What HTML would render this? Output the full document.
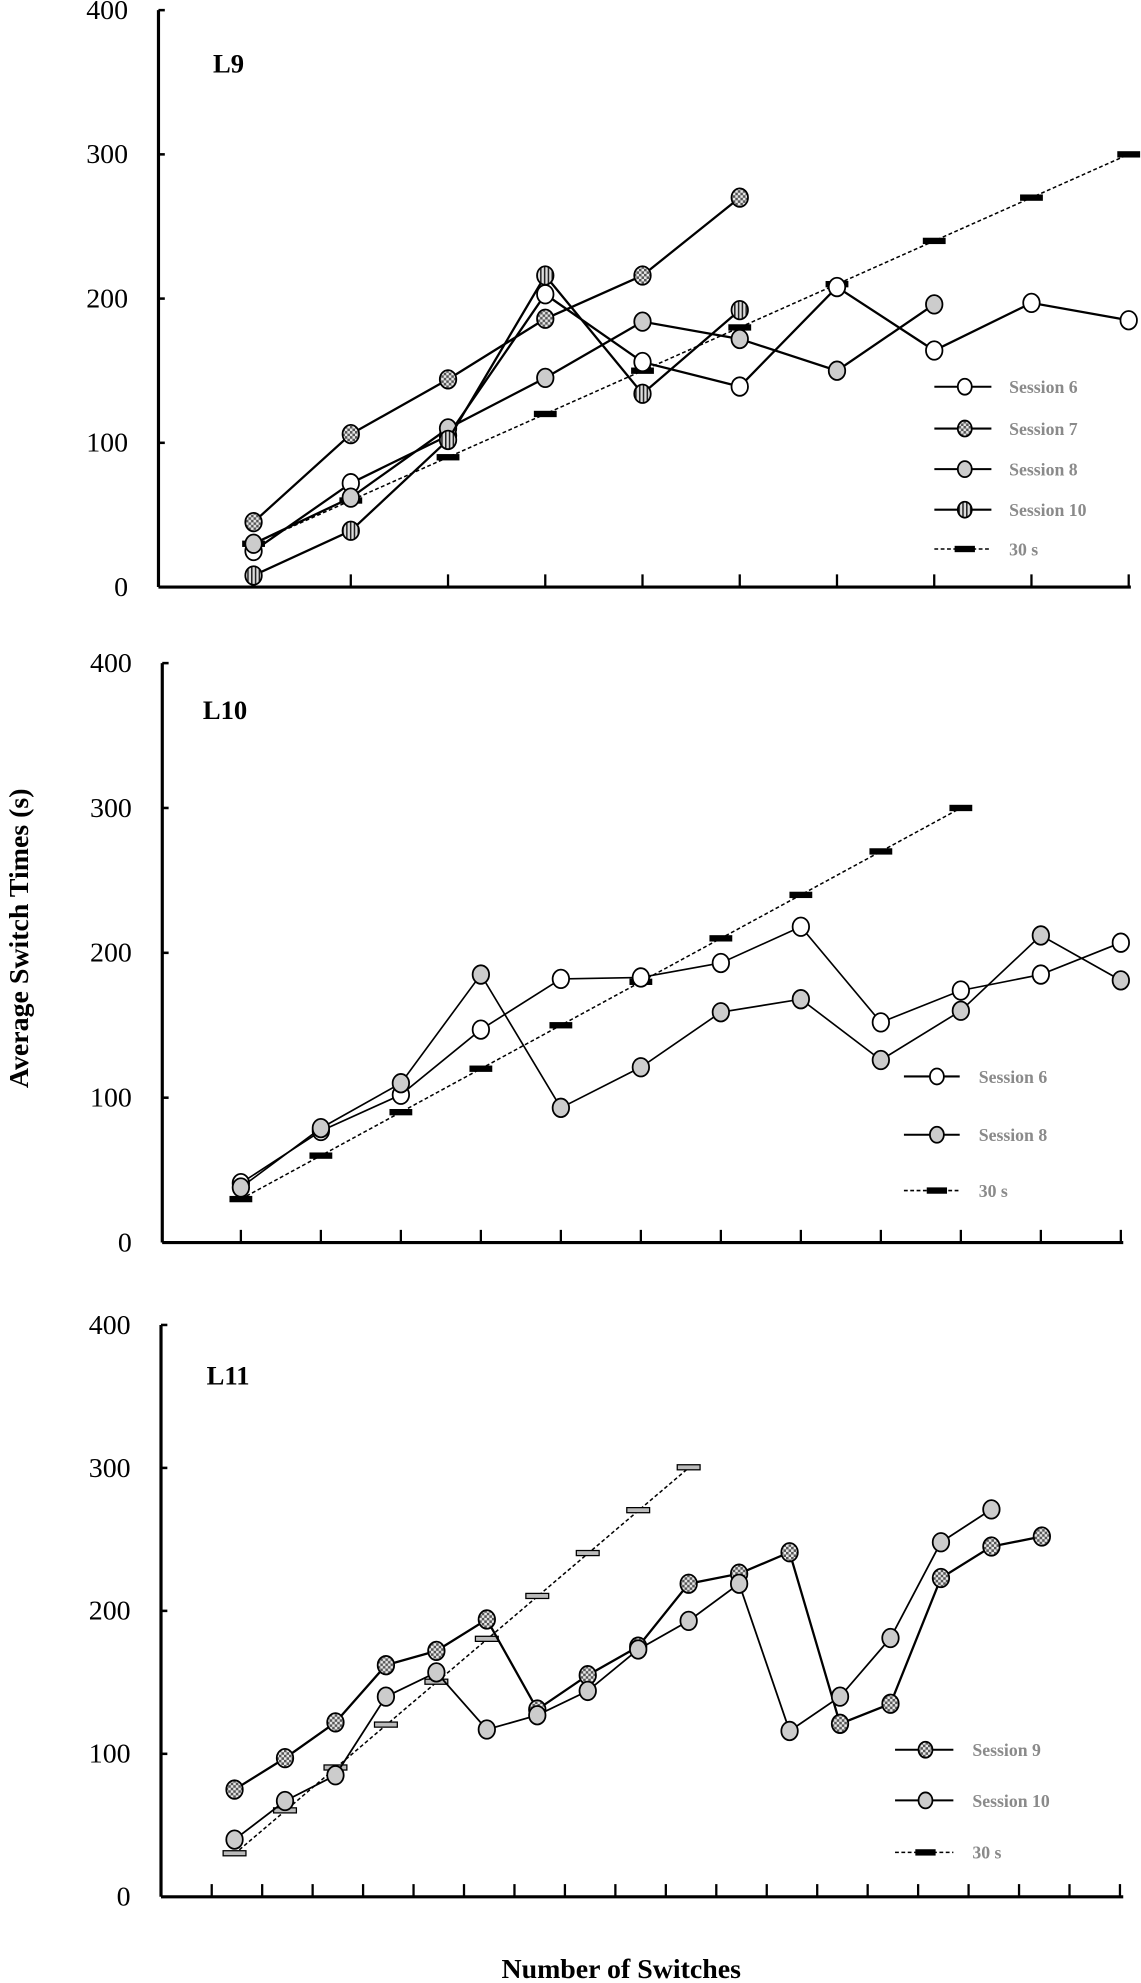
<!DOCTYPE html>
<html><head><meta charset="utf-8"><style>
html,body{margin:0;padding:0;background:#fff;}
svg{display:block;}
text{font-family:"Liberation Serif",serif;}
</style></head>
<body>
<svg id="fig" width="1141" height="1983" viewBox="0 0 900 1564" preserveAspectRatio="none" xmlns="http://www.w3.org/2000/svg">
<defs>
<pattern id="chk" width="4" height="4" patternUnits="userSpaceOnUse">
<rect width="4" height="4" fill="#e8e8e8"/><rect width="2" height="2" fill="#555"/><rect x="2" y="2" width="2" height="2" fill="#555"/>
</pattern>
<pattern id="str" width="3" height="3" patternUnits="userSpaceOnUse">
<rect width="3" height="3" fill="#ddd"/><rect width="1.2" height="3" fill="#222"/>
</pattern>
</defs>
<text x="0" y="0" transform="translate(22,740) rotate(-90)" text-anchor="middle" font-size="22" font-weight="bold">Average Switch Times (s)</text>
<text x="490" y="1560" text-anchor="middle" font-size="22" font-weight="bold">Number of Switches</text>
</svg>
<script>
// ---- Panel L9 data ----
const l9Session6 = [25,72,105,203,156,139,208,164,197,185];
const l9Session7 = [45,106,144,186,216,270];
const l9Session8 = [30,62,110,145,184,172,150,196];
const l9Session10 = [8,39,102,216,134,192];
const l9Ref30 = [30,60,90,120,150,180,210,240,270,300];
// ---- Panel L10 data ----
const l10Session6 = [41,77,102,147,182,183,193,218,152,174,185,207];
const l10Session8 = [38,79,110,185,93,121,159,168,126,160,212,181];
const l10Ref30 = [30,60,90,120,150,180,210,240,270,300];
// ---- Panel L11 data ----
const l11Session9 = [75,97,122,162,172,194,131,155,175,219,226,241,121,135,223,245,252];
const l11Session10 = [40,67,85,140,157,117,127,144,173,193,219,116,140,181,248,271];
const l11Ref30 = [30,60,90,120,150,180,210,240,270,300];
const yTicks = [0,100,200,300,400];

const NS = "http://www.w3.org/2000/svg";
const svg = document.getElementById('fig');
function mk(tag, attrs, parent){
  const e = document.createElementNS(NS, tag);
  for (const k in attrs) e.setAttribute(k, attrs[k]);
  (parent||svg).appendChild(e);
  return e;
}
const fills = {white:'#fff', chk:'url(#chk)', grey:'#ccc', str:'url(#str)'};

function panel(cfg){
  const g = mk('g', {});
  
  
  const yS = v => cfg.y0 - (cfg.y0 - cfg.y400) * v / 400;
  const xS = i => cfg.p0 + cfg.pStep * i;
  const ya = mk('line', {x1:cfg.ax, y1:cfg.y400, x2:cfg.ax, y2:cfg.y0, stroke:'#000','stroke-width':2.5}, g);
  
  
  const xa = mk('line', {x1:cfg.ax, y1:cfg.y0, x2:cfg.xEnd, y2:cfg.y0, stroke:'#000','stroke-width':2.5}, g);
  
  
  yTicks.forEach(v => {
    mk('line', {x1:cfg.ax, y1:yS(v), x2:cfg.ax+5, y2:yS(v), stroke:'#000','stroke-width':2}, g);
    const t = mk('text', {x:cfg.ax-24, y:yS(v)+7, 'text-anchor':'end', 'font-size':22}, g);
    t.textContent = v;
    
    
  });
  for (let k=0;k<cfg.nTicks;k++){
    const x = cfg.t0 + cfg.tStep*k;
    mk('line', {x1:x, y1:cfg.y0, x2:x, y2:cfg.y0-10, stroke:'#000','stroke-width':1.8}, g);
  }
  const lab = mk('text', {x:cfg.labX, y:cfg.labY, 'font-size':21, 'font-weight':'bold'}, g);
  lab.textContent = cfg.label;
  
  
  const ref = cfg.ref;
  const rp = ref.vals.map((v,i)=>xS(i)+','+yS(v)).join(' ');
  const rl = mk('polyline', {points:rp, fill:'none', stroke:'#000','stroke-width':1.2,'stroke-dasharray':'3,2'}, g);
  
  
  ref.vals.forEach((v,i)=>{
    const r = mk('rect', {x:xS(i)-9, y:yS(v)-2.5, width:18, height:ref.fill==='#000'?5:4, fill:ref.fill, stroke:'#000','stroke-width':ref.fill==='#000'?0:1}, g);
    
    
  });
  cfg.series.forEach(s=>{
    const pts = s.vals.map((v,i)=>xS(i)+','+yS(v)).join(' ');
    const pl = mk('polyline', {points:pts, fill:'none', stroke:'#000','stroke-width':s.w||1.8}, g);
    
    
    s.vals.forEach((v,i)=>{
      const c = mk('ellipse', {cx:xS(i), cy:yS(v), rx:6.5, ry:7.3, fill:fills[s.fill], stroke:'#000','stroke-width':1.4}, g);
      
      
    });
  });
  const L = cfg.legend;
  const items = cfg.series.map(s=>({t:s.title, f:s.fill})).concat([{t:'30 s', ref:true}]);
  items.forEach((it,k)=>{
    const y = L.ys[k];
    const lg = mk('g', {}, g);
    
    
    if (it.ref){
      mk('line', {x1:L.x1, y1:y, x2:L.x2, y2:y, stroke:'#000','stroke-width':1.2,'stroke-dasharray':'3,2'}, lg);
      mk('rect', {x:L.mx-8, y:y-2.5, width:16, height:5, fill:'#000'}, lg);
    } else {
      mk('line', {x1:L.x1, y1:y, x2:L.x2, y2:y, stroke:'#000','stroke-width':1.6}, lg);
      mk('ellipse', {cx:L.mx, cy:y, rx:5.5, ry:6.3, fill:fills[it.f], stroke:'#000','stroke-width':1.4}, lg);
    }
    const t = mk('text', {x:L.tx, y:y+5, 'font-size':14, 'font-weight':'bold', fill:'#8a8a8a'}, lg);
    t.textContent = it.t;
  });
}

panel({name:'panel-l9', label:'L9', labX:168, labY:57, ax:125, y0:463, y400:8, xEnd:892,
  t0:200, tStep:76.7, nTicks:10, p0:200, pStep:76.7,
  ref:{vals:l9Ref30, fill:'#000'},
  series:[
    {id:'l9-session-6', title:'Session 6', vals:l9Session6, fill:'white'},
    {id:'l9-session-7', title:'Session 7', vals:l9Session7, fill:'chk'},
    {id:'l9-session-8', title:'Session 8', vals:l9Session8, fill:'grey'},
    {id:'l9-session-10', title:'Session 10', vals:l9Session10, fill:'str'}],
  legend:{x1:737, x2:782, mx:761, tx:796, ys:[305,338,370,402,433]}});

panel({name:'panel-l10', label:'L10', labX:160, labY:567, ax:128, y0:980, y400:523, xEnd:886,
  t0:190, tStep:63.1, nTicks:12, p0:190, pStep:63.1,
  ref:{vals:l10Ref30, fill:'#000'},
  series:[
    {id:'l10-session-6', title:'Session 6', vals:l10Session6, fill:'white', w:1.3},
    {id:'l10-session-8', title:'Session 8', vals:l10Session8, fill:'grey', w:1.3}],
  legend:{x1:713, x2:757, mx:739, tx:772, ys:[849,895,939]}});

panel({name:'panel-l11', label:'L11', labX:163, labY:1092, ax:127, y0:1496, y400:1045, xEnd:886,
  t0:167, tStep:39.8, nTicks:19, p0:185, pStep:39.8,
  ref:{vals:l11Ref30, fill:'#bbb'},
  series:[
    {id:'l11-session-9', title:'Session 9', vals:l11Session9, fill:'chk'},
    {id:'l11-session-10', title:'Session 10', vals:l11Session10, fill:'grey', w:1.4}],
  legend:{x1:706, x2:752, mx:730, tx:767, ys:[1380,1420,1461]}});
</script>
</body></html>
